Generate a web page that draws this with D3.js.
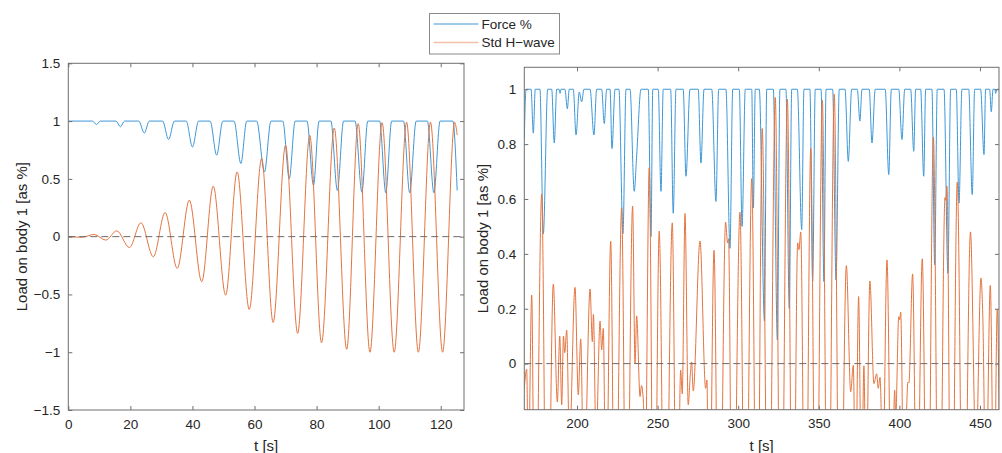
<!DOCTYPE html>
<html>
<head>
<meta charset="utf-8">
<script src="https://cdnjs.cloudflare.com/ajax/libs/d3/7.8.5/d3.min.js"></script>
<style>
  body { margin: 0; background: #fff; }
  svg { font-family: "Liberation Sans", Arial, sans-serif; }
</style>
</head>
<body>
<svg id="chart" width="1002" height="453"></svg>
<script>
// ---- data ----
const seriesNames = ["Force %", "Std H\u2212wave"];

// left panel, t in s
const leftForce = [[0,1],[7.8,1],[9.1,0.97],[10.3,1],[15.4,1],[16.8,0.95],[18.1,1],[22.7,1],[24.5,0.897],[26.1,1],
  [30.4,1],[32.3,0.84],[34.2,1],[38.0,1],[40.0,0.776],[42.0,1],[45.7,1],[47.8,0.705],[49.8,1],[53.4,1],[55.6,0.633],
  [57.5,1],[60.7,1],[63.2,0.56],[65.3,1],[69.1,1],[71.2,0.503],[73.1,1],[76.9,1],[79.0,0.445],[80.8,1],[84.6,1],
  [86.7,0.40],[88.7,1],[92.4,1],[94.6,0.385],[96.5,1],[100.3,1],[102.3,0.38],[104.2,1],[108.0,1],[110.0,0.38],
  [112.1,1],[115.7,1],[117.8,0.38],[119.8,1],[123.9,1],[125.3,0.40]];

const leftWave = [[0,0],[4.5,-0.005],[8.3,0.019],[12.1,-0.03],[15.6,0.05],[19.7,-0.094],[23.4,0.12],[27.4,-0.174],
  [31.2,0.209],[35.1,-0.275],[39.0,0.316],[43.0,-0.39],[46.7,0.437],[50.7,-0.506],[54.4,0.56],[58.3,-0.63],
  [62.3,0.676],[66.0,-0.742],[70.0,0.791],[73.9,-0.837],[77.8,0.877],[81.6,-0.918],[85.7,0.94],[89.7,-0.975],
  [93.4,0.978],[97.2,-1],[101.1,0.987],[105.0,-1],[109.0,0.99],[112.8,-1],[116.7,0.99],[120.6,-1],[124.5,0.99],[125.3,0.88]];

// right panel, t in s
const rightForce = [[167.3,0.82],[168.4,1],[171.5,1],[172.9,0.84],[174.1,1],[177.0,1],[179.1,0.473],[181.8,1],
  [184.3,1],[185.9,0.804],[187.4,1],[188.8,1],[189.5,0.985],[190.1,1],[192.5,1],[194.0,0.929],[195.2,1],[197.7,1],
  [199.4,0.833],[201.4,0.99],[202.9,0.954],[204.3,1],[208.1,1],[210.5,0.833],[212.2,1],[215.3,1],[216.9,0.875],
  [218.4,1],[220.5,1],[221.7,0.784],[223.6,1],[226.0,1],[228.5,0.473],[230.4,1],[232.9,1],[235.5,0.628],
  [237.0,0.757],[239.7,1],[244.2,1],[245.9,0.463],[247.0,1],[250.4,1],[252.1,0.628],[253.5,1],[258.1,1],
  [259.7,0.548],[261.4,1],[265.9,1],[267.6,0.683],[270.1,1],[275.2,1],[276.9,0.731],[278.8,1],[283.6,1],
  [286.2,0.591],[287.9,1],[292.4,1],[294.9,0.42],[296.6,1],[300.7,1],[302.4,0.50],[304.4,1],[308.4,1],
  [309.4,0.567],[310.6,1],[313.1,1],[316.3,0.155],[317.7,1],[321.8,1],[324.3,0.086],[325.9,1],[329.6,1],
  [331.7,0.201],[333.2,1],[336.7,1],[339.4,0.488],[340.8,1],[344.5,1],[346.2,0.299],[347.8,1],[351.4,1],
  [353.2,0.299],[354.5,1],[358.6,1],[360.7,0.305],[362.7,1],[366.3,1],[368.3,0.737],[370.4,1],[373.9,1],
  [375.5,0.884],[376.8,1],[381.3,1],[383.0,0.804],[385.0,1],[391.2,1],[393.4,0.689],[395.0,1],[399.6,1],
  [401.6,0.817],[403.3,1],[407.0,1],[408.9,0.774],[410.1,1],[413.2,1],[415.1,0.683],[416.3,1],[420.2,1],
  [421.9,0.36],[423.5,1],[427.7,1],[430.1,0.329],[431.8,1],[435.3,1],[437.0,0.585],[438.8,1],[443.0,1],
  [445.2,0.616],[446.7,1],[450.4,1],[452.5,0.762],[453.5,1],[456.0,1],[457.0,0.918],[458.1,1],[459.3,1],
  [459.7,0.985],[460.5,1],[461.8,1]];

const rightWave = [[167.3,-0.09],[168.8,-0.02],[169.8,-0.4],[171.9,0.25],[173.9,-0.9],[178.1,0.618],[181.4,-1],
  [185.3,0.29],[187.8,-0.14],[189.3,0.10],[190.5,-0.15],[191.6,0.10],[192.4,0.04],[193.6,0.122],[195.3,-0.3],
  [198.75,0.278],[200.8,-0.114],[202.3,0.09],[204.3,-0.5],[208.1,0.272],[209.5,0.08],[210.2,0.18],[211.8,-0.3],
  [214.3,0.155],[215.3,0.05],[216.3,0.128],[218.0,-0.6],[220.9,0.446],[223.6,-0.9],[227.7,0.568],[230.7,-0.9],
  [234.5,0.574],[236.0,0.0],[237.0,0.174],[239.1,-0.12],[240.0,-0.08],[241.2,-0.14],[242.2,-0.5],[244.8,0.714],
  [247.8,-1],[251.0,0.483],[254.6,-1],[259.1,0.513],[262.0,-0.9],[264.3,-0.024],[265.3,-0.11],[267.0,0.547],
  [269.0,-0.15],[270.3,-0.04],[271.1,0.006],[272.1,-0.1],[276.3,0.447],[279.8,-0.09],[280.6,-0.06],[281.9,-0.8],
  [285.0,0.413],[288.1,-1],[292.2,0.516],[293.4,0.44],[294.0,0.455],[296.5,-1],[301.1,0.552],[304.5,-1],
  [308.4,0.674],[311.7,-1],[314.9,0.857],[318.8,-1],[323.0,0.97],[326.5,-1],[330.5,0.964],[334.0,-1],
  [336.9,0.44],[337.7,0.415],[338.8,0.48],[341.7,-1],[345.0,0.784],[348.3,-1],[352.2,0.96],[355.7,-1],
  [359.6,0.982],[363.1,-1],[367.1,0.357],[369.8,-0.103],[371.4,-0.006],[372.8,-0.5],[374.7,0.244],[376.5,-0.5],
  [378.0,-0.008],[379.3,-0.5],[381.7,0.301],[384.2,-0.073],[385.9,-0.037],[386.9,-0.09],[388.0,-0.05],[389.8,-0.4],
  [392.3,0.378],[395.1,-0.6],[397.1,-0.097],[397.7,-0.2],[399.6,0.171],[400.2,0.16],[400.8,0.188],[402.8,-0.5],
  [405.3,-0.067],[405.9,-0.07],[408.2,0.327],[410.9,-0.7],[414.2,0.382],[417.4,-1],[421.1,0.826],[424.6,-1],
  [428.3,0.605],[428.8,0.595],[429.5,0.647],[432.3,-1],[435.9,0.662],[439.8,-1],[444.1,0.48],[447.5,-0.35],
  [450.6,0.312],[451.7,0.184],[453.7,-0.5],[456.4,0.285],[458.7,-0.6],[460.7,0.197],[462.1,-0.3]];

const leftXTicks = [0, 20, 40, 60, 80, 100, 120];
const leftYTicks = [-1.5, -1, -0.5, 0, 0.5, 1, 1.5];
const rightXTicks = [200, 250, 300, 350, 400, 450];
const rightYTicks = [0, 0.2, 0.4, 0.6, 0.8, 1];

const xLabel = "t [s]";
const yLabel = "Load on body 1 [as %]";

// ---- drawing ----
const blue = "#3d97d6";
const orange = "#e4743f";
const axisColor = "#6f6f6f";
const textColor = "#262626";

const svg = d3.select("#chart");

function drawPanel(id, box, xDomain, yDomain, xTicks, yTicks, force, wave) {
  const x = d3.scaleLinear().domain(xDomain).range([box.left, box.right]);
  const y = d3.scaleLinear().domain(yDomain).range([box.bottom, box.top]);
  const g = svg.append("g");

  svg.append("clipPath").attr("id", id)
    .append("rect")
    .attr("x", box.left).attr("y", box.top)
    .attr("width", box.right - box.left).attr("height", box.bottom - box.top);

  const plot = g.append("g").attr("clip-path", `url(#${id})`);

  const line = d3.line()
    .x(d => x(d[0]))
    .y(d => y(d[1]))
    .curve(d3.curveMonotoneX);

  plot.append("path").datum(force)
    .attr("fill", "none").attr("stroke", blue).attr("stroke-width", 1)
    .attr("d", line);

  plot.append("path").datum(wave)
    .attr("fill", "none").attr("stroke", orange).attr("stroke-width", 1)
    .attr("d", line);

  plot.append("line")
    .attr("x1", box.left).attr("x2", box.right)
    .attr("y1", y(0)).attr("y2", y(0))
    .attr("stroke", "#6a6a6a").attr("stroke-width", 1)
    .attr("stroke-dasharray", "7,4");

  const fmt = d3.format("");

  const bottom = g.append("g").attr("transform", `translate(0,${box.bottom})`)
    .call(d3.axisBottom(x).tickValues(xTicks).tickFormat(fmt).tickSize(-4).tickSizeOuter(0).tickPadding(9));
  const top = g.append("g").attr("transform", `translate(0,${box.top})`)
    .call(d3.axisTop(x).tickValues(xTicks).tickFormat("").tickSize(-4).tickSizeOuter(0));
  const left = g.append("g").attr("transform", `translate(${box.left},0)`)
    .call(d3.axisLeft(y).tickValues(yTicks).tickFormat(fmt).tickSize(-4).tickSizeOuter(0).tickPadding(8));
  const right = g.append("g").attr("transform", `translate(${box.right},0)`)
    .call(d3.axisRight(y).tickValues(yTicks).tickFormat("").tickSize(-4).tickSizeOuter(0));

  [bottom, top, left, right].forEach(a => {
    a.select(".domain").remove();
    a.selectAll(".tick line").attr("stroke", axisColor);
    a.selectAll("text").attr("fill", textColor).style("font-size", "13.5px")
      .style("font-family", "'Liberation Sans', Arial, sans-serif");
  });

  g.append("rect")
    .attr("x", box.left).attr("y", box.top)
    .attr("width", box.right - box.left).attr("height", box.bottom - box.top)
    .attr("fill", "none").attr("stroke", axisColor).attr("stroke-width", 1);

  g.append("text")
    .attr("x", (box.left + box.right) / 2).attr("y", 451)
    .attr("text-anchor", "middle").attr("fill", textColor)
    .style("font-size", "15px")
    .text(xLabel);

  g.append("text")
    .attr("transform", `translate(${box.left - box.labelOffset},${(box.top + box.bottom) / 2}) rotate(-90)`)
    .attr("text-anchor", "middle").attr("fill", textColor)
    .style("font-size", "15px")
    .text(yLabel);
}

drawPanel("clipL", { left: 68.3, right: 464, top: 63.3, bottom: 410, labelOffset: 41 },
  [0, 127.5], [-1.5, 1.5], leftXTicks, leftYTicks, leftForce, leftWave);

drawPanel("clipR", { left: 524.3, right: 999, top: 67.3, bottom: 409.7, labelOffset: 36 },
  [167.3, 461.8], [-0.168, 1.08], rightXTicks, rightYTicks, rightForce, rightWave);

// legend
const legend = svg.append("g").attr("transform", "translate(429.5,13.5)");
legend.append("rect")
  .attr("width", 130).attr("height", 40.5)
  .attr("fill", "#fff").attr("stroke", "#8a8a8a").attr("stroke-width", 1);

[blue, orange].forEach((c, i) => {
  const yy = 10.5 + i * 18.5;
  legend.append("line")
    .attr("x1", 4).attr("x2", 49).attr("y1", yy).attr("y2", yy)
    .attr("stroke", c).attr("stroke-width", i === 0 ? 1 : 1.6)
    .attr("stroke-opacity", i === 0 ? 1 : 0.45);
  legend.append("text")
    .attr("x", 52).attr("y", yy + 4.8)
    .attr("fill", textColor).style("font-size", "13.5px")
    .text(seriesNames[i]);
});
</script>
</body>
</html>
